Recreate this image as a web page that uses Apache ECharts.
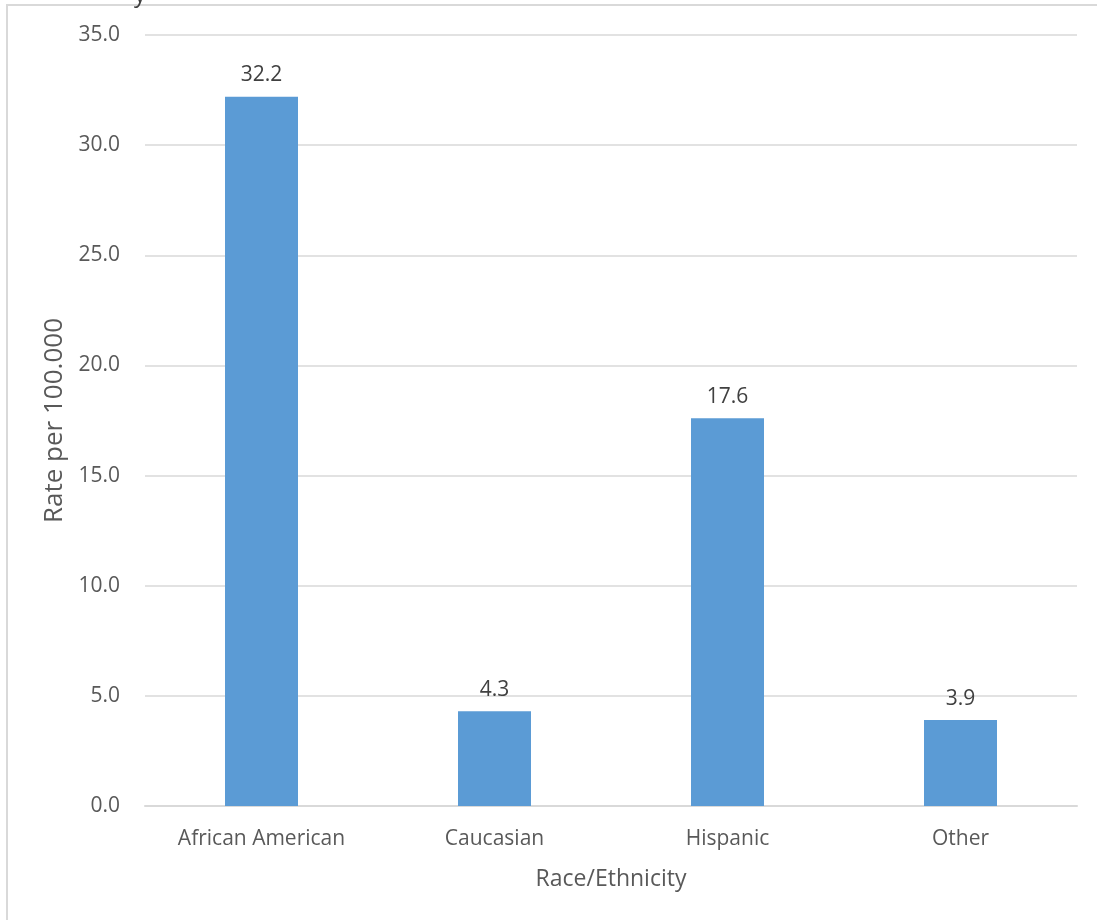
<!DOCTYPE html>
<html>
<head>
<meta charset="utf-8">
<script src="https://cdn.jsdelivr.net/npm/echarts@6/dist/echarts.min.js"></script>
<style>
html,body{margin:0;padding:0;background:#fff;}
#chart{width:1097px;height:920px;}
</style>
</head>
<body>
<div id="chart"></div>
<script>
const categories = ['African American', 'Caucasian', 'Hispanic', 'Other'];
const rates = [32.2, 4.3, 17.6, 3.9];
const yTicks = { min: 0, max: 35, interval: 5 };

const FONT = '"Open Sans", "Noto Sans", sans-serif';
const chart = echarts.init(document.getElementById('chart'));
chart.setOption({
  animation: false,
  backgroundColor: '#ffffff',
  graphic: [
    { type: 'rect', shape: { x: 7, y: 5, width: 1100, height: 930 },
      style: { fill: 'none', stroke: '#d9d9d9', lineWidth: 2 }, silent: true },
    { type: 'text', left: 134, top: -17,
      style: { text: 'y', font: '24px ' + FONT, fill: '#404040' } }
  ],
  grid: { left: 145, right: 20, top: 35, bottom: 114, containLabel: false },
  xAxis: {
    type: 'category',
    data: categories,
    name: 'Race/Ethnicity',
    nameLocation: 'middle',
    nameGap: 62,
    nameTextStyle: { fontFamily: FONT, fontSize: 23, color: '#595959' },
    axisTick: { show: false },
    axisLine: { lineStyle: { color: '#d9d9d9', width: 2 } },
    axisLabel: { fontFamily: FONT, fontSize: 21, color: '#595959', margin: 23 }
  },
  yAxis: {
    type: 'value',
    min: yTicks.min, max: yTicks.max, interval: yTicks.interval,
    name: 'Rate per 100.000',
    nameLocation: 'middle',
    nameGap: 70,
    nameTextStyle: { fontFamily: FONT, fontSize: 26, color: '#595959' },
    axisLine: { show: false },
    axisTick: { show: false },
    splitLine: { lineStyle: { color: '#d9d9d9', width: 1.5 } },
    axisLabel: { fontFamily: FONT, fontSize: 21, color: '#595959', margin: 25,
      formatter: v => v.toFixed(1) }
  },
  series: [{
    type: 'bar',
    data: rates,
    barWidth: 73,
    itemStyle: { color: '#5b9bd5' },
    label: { show: true, position: 'top', distance: 11,
      fontFamily: FONT, fontSize: 21, color: '#404040',
      formatter: p => p.value.toFixed(1) }
  }]
});
</script>
</body>
</html>
